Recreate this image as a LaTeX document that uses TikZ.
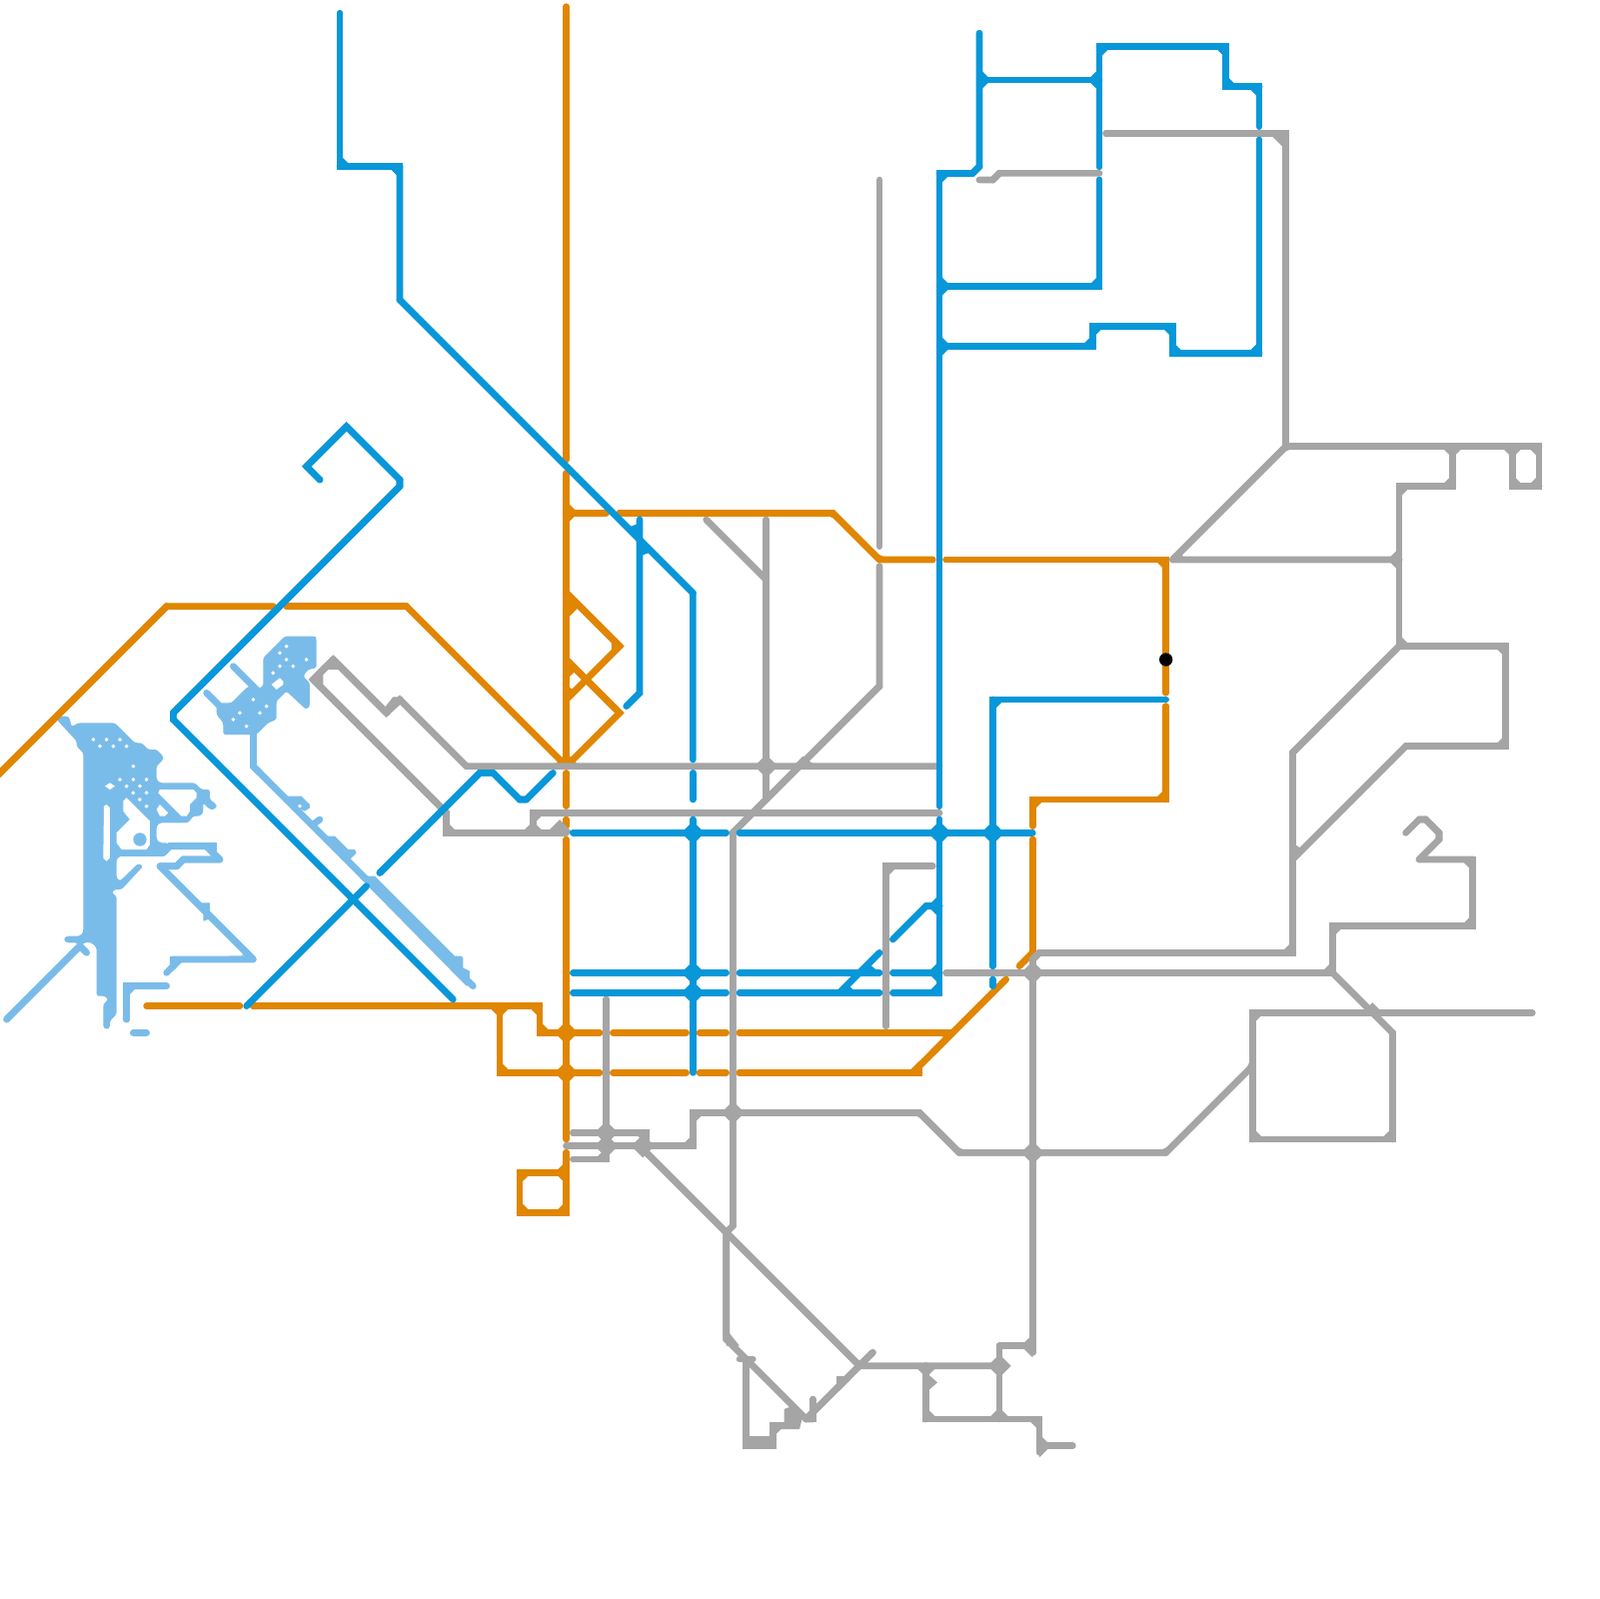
\documentclass[tikz,border=0pt]{standalone}
\usetikzlibrary{calc}
\definecolor{metroO}{HTML}{E08600}
\definecolor{metroB}{HTML}{0897D8}
\definecolor{metroG}{HTML}{A5A5A5}
\definecolor{metroL}{HTML}{7ABCE9}
\tikzset{metro/.style={line width=1mm,line cap=round,line join=miter,miter limit=2}}
\newcommand\chordall{0}
\newcommand\mline[2]{%
  \foreach \x/\y [count=\i, remember=\ax as \aax (initially 0), remember=\ay as \aay (initially 0),
      remember=\x as \ax (initially 0), remember=\y as \ay (initially 0)] in {#2}{%
    \ifnum\i=2 \draw[metro,#1] (\ax,\ay)--(\x,\y); \fi
    \ifnum\i>2
      \draw[metro,#1] (\aax,\aay)--(\ax,\ay)--(\x,\y);
      \pgfmathtruncatemacro\dochord{(\chordall==1 || (abs((\ax-\aax)*0.05*(\x-\ax)*0.05+(\ay-\aay)*0.05*(\y-\ay)*0.05)<0.001 && abs((\ax-\aax)*0.05*(\ay-\aay)*0.05)<0.001)) ? 1 : 0}%
      \ifnum\dochord=1
      \fill[#1] (\ax,\ay)--($(\ax,\ay)!1.75mm!(\aax,\aay)$)--($(\ax,\ay)!1.75mm!(\x,\y)$)--cycle;
      \fi
    \fi
  }}
\newcommand\mlineall[2]{\begingroup\renewcommand\chordall{1}\mline{#1}{#2}\endgroup}
\newcommand\mdia[3]{\fill[#1] (#2,#3) +(-1.75,0) -- +(0,-1.75) -- +(1.75,0) -- +(0,1.75) -- cycle;}
\newcommand\teeH[4]{\fill[#1] (#2,#3) +(0,-1.75) -- +(#4*1.75,0) -- +(0,1.75) -- cycle;}
\newcommand\teeV[4]{\fill[#1] (#2,#3) +(-1.75,0) -- +(0,#4*1.75) -- +(1.75,0) -- cycle;}
\newcommand\hdot[2]{\fill[white] (#1,#2) +(-6,0) -- +(0,-6) -- +(6,0) -- +(0,6) -- cycle;}
\begin{document}
\begin{tikzpicture}[x=1mm,y=-1mm]
\fill[white] (0,0) rectangle (240,240);
\useasboundingbox (0,0) rectangle (240,240);
% ---------- light blue
\begin{scope}[shift={(0,93)},x=0.05mm,y=-0.05mm]
\fill[metroL,rounded corners=1pt] (170,300)--(180,290)--(205,290)--(210,300)--(215,322)--(235,310)--(345,310)--(405,370)--(425,370)--(445,390)--(470,390)--(490,410)--(490,420)--(470,440)--(470,480)--(480,490)--(585,490)--(605,510)--(630,510)--(630,540)--(650,555)--(650,565)--(640,570)--(630,570)--(610,550)--(610,580)--(600,590)--(580,590)--(565,610)--(480,610)--(470,620)--(470,660)--(480,670)--(505,670)--(480,710)--(360,710)--(350,720)--(350,775)--(360,785)--(365,780)--(415,732)--(430,740)--(365,810)--(345,810)--(335,820)--(350,830)--(350,1185)--(330,1205)--(330,1225)--(320,1230)--(310,1225)--(310,1155)--(325,1140)--(315,1130)--(290,1130)--(290,985)--(275,970)--(258,968)--(240,980)--(230,970)--(200,970)--(190,960)--(200,950)--(240,950)--(250,938)--(250,400)--(230,380)--(230,365)--cycle;
\mline{metroL}{490/700,510/680,640/680,640/700,660/720,550/720,530/740,480/740,760/1020,520/1020,520/1040,500/1060}
\mline{metroL}{360/700,490/700}
\fill[metroL] (605,850)--(630,850)--(630,880)--(640,895)--(610,905)--(610,880)--cycle;
\mline{metroL}{20/1200,240/980,260/1000}
\mline{metroL}{380/1200,380/1100,500/1100}
\mline{metroL}{400/1240,440/1240}
\fill[metroL] (690,1010)--(735,1010)--(735,1000)--(700,1030)--cycle;
% holes
\fill[white] (475,520)--(480,510)--(580,510)--(590,520)--(590,535)--(570,555)--(570,575)--(560,590)--(545,590)--cycle;
\fill[white] (470,570)--(480,555)--(505,580)--(495,590)--(480,590)--cycle;
\fill[white] (380,535)--(450,605)--(450,675)--(440,690)--(365,690)--(350,670)--(350,640)--(390,600)--(370,575)--(370,545)--cycle;
\fill[metroL] (420,660) circle (20);
\fill[white] (312,560)--(320,555)--(330,565)--(330,715)--(320,725)--(310,715)--cycle;
\fill[white] (315,500)--(330,490)--(345,500)--(330,510)--cycle;
\foreach \a/\b in {280/360,320/360,360/360,300/380,340/380,380/380,400/440,360/480,400/480,440/480,380/500,420/500,400/520,440/520,420/540,440/560}{\hdot{\a}{\b}}
% upper blob
\fill[metroL,rounded corners=1pt] (790,115)--(855,50)--(945,50)--(950,55)--(950,145)--(925,150)--(910,170)--(930,190)--(930,260)--(920,270)--(910,262)--(860,215)--(830,245)--(830,300)--(805,310)--(770,345)--(670,345)--(670,310)--(650,285)--(650,250)--(695,250)--(745,200)--(780,205)--(790,200)--cycle;
\mline{metroL}{620/220,660/260}
\mline{metroL}{700/140,780/220}
\fill[white] (815,195)--(840,175)--(850,185)--(850,195)--(830,210)--cycle;
\foreach \a/\b in {860/80,840/100,860/120,920/120,840/140,880/140,820/160,760/240,800/260,720/280,780/280,700/300,740/320}{\hdot{\a}{\b}}
\end{scope}
\mline{metroL}{38/110,38/115,39/116,71/148}
\begin{scope}[shift={(40.5,115.5)},x=0.05mm,y=-0.05mm]
\fill[metroL] (50,80)--(95,80)--(120,105)--(120,115)--(105,125)--(85,115)--cycle;
\hdot{90}{110}
\mline{metroL}{130/165,150/150}
\fill[metroL] (170,200)--(195,200)--(235,240)--(255,240)--(260,250)--(240,270)--(220,270)--cycle;
\fill[metroL] (290,320)--(315,320)--(555,560)--(575,560)--(580,565)--(580,595)--(600,605)--(600,630)--(610,640)--(590,650)--(270,325)--cycle;
\end{scope}
% ---------- orange
\mline{metroO}{-1/117,25/91,41/91}
\mline{metroO}{43/91,61/91,85/115}
\mline{metroO}{85/1,85/69}
\mline{metroO}{85/71,85/115}
\mline{metroO}{85/116,85/121}
\mline{metroO}{85/123,85/124}
\mline{metroO}{85/126,85/171}
\mline{metroO}{85/173,85/182,78/182,78/176,85/176}
\mline{metroO}{85/77,91/77}
\mlineall{metroO}{93/77,125/77,132/84,140/84}
\mline{metroO}{142/84,175/84,175/104}
\mline{metroO}{175/106,175/120,155/120,155/124}
\mline{metroO}{155/126,155/143,153/145}
\mlineall{metroO}{85/89,93/97,85/105}
\mline{metroO}{85/99,93/107,85/115}
\mline{metroO}{22/151,36/151}
\mline{metroO}{38/151,81/151,81/155,90/155}
\mline{metroO}{75/151,75/161,90/161}
\mline{metroO}{92/155,103/155}
\mline{metroO}{92/161,103/161}
\mline{metroO}{105/155,109/155}
\mline{metroO}{105/161,109/161}
\mlineall{metroO}{111/155,143/155,140/158}
\mline{metroO}{111/161,138/161,138/160}
\mline{metroO}{137/161,151/147}
\mdia{metroO}{85}{155}
\mdia{metroO}{85}{161}
\teeH{metroO}{85}{77}{1}
\teeV{metroO}{75}{151}{1}
\teeH{metroO}{85}{176}{-1}
\fill[metroO] (85,89)--(87,91)--(85,93)--cycle;
\fill[metroO] (85,99)--(86.5,100.6)--(85,102)--cycle;
\fill[metroO] (85,105)--(85,103)--(86.4,103.6)--cycle;
\fill[metroO] (85,113)--(87,115)--(83,115)--cycle;
% ---------- grey
\mline{metroG}{132/27,132/82}
\mline{metroG}{132/85,132/103,110/125,110/184,109/185,109/201,121/213}
\mline{metroG}{58/107,50/99,47/102,67/122,67/125,85/125}
\mline{metroG}{48/103,48/101,49/100,51/100}
\mline{metroG}{50/99,58/107,60/105,70/115,141/115}
\fill[metroG] (57.5,106.5)--(59,104.6)--(60.5,104.6)--(60,105.8)--(58,107.5)--cycle;
\mline{metroG}{80/125,80/122,141/122}
\mline{metroG}{106/78,115/87}
\mline{metroG}{115/78,115/120}
\mline{metroG}{133/154,133/130,140/130}
\mline{metroG}{147/27,149/27,150/26,165/26}
\mline{metroG}{166/20,193/20,193/67}
\mline{metroG}{193/67,231/67,231/73,227/73,227/67}
\mlineall{metroG}{210/84,176/84,193/67,210/67}
\mline{metroG}{218/67,218/73,210/73,210/97,226/97,226/112,211/112,194/129}
\mline{metroG}{155/146,155/144,156/143,194/143,194/113,210/97,226/97}
\mline{metroG}{142/146,200/146,200/139,221/139,221/129,213/129,216/126,216/125,214/123,213/123,211/125}
\mline{metroG}{200/146,209/155,209/171,188/171,188/152,230/152}
\mlineall{metroG}{85/172,104/172,104/167,138/167,144/173,175/173,188/160,188/157}
\mline{metroG}{86/170,97/170,97/172}
\mline{metroG}{96/172,129/205,150/205}
\mline{metroG}{91/150,91/174,86/174}
\mline{metroG}{155/146,155/203}
\mline{metroG}{131/203,121/213,122/213,122/210}
\mline{metroG}{112/204,112/217,116/217,116/214,118/214}
\mline{metroG}{112/216,116/216}
\fill[metroG] (117.7,211.5)--(119,211)--(120.5,212.5)--(120,214.5)--(116,214.5)--(116,213.5)--(117.7,213.5)--cycle;
\mline{metroG}{111/204,113/204}
\fill[metroG] (109,199.5)--(111,202)--(109,202)--cycle;
\mline{metroG}{126/208,126/207,127/207}
\mline{metroG}{139/205,139/213,156/213,156/218}
\mline{metroG}{150/202,150/213}
\mline{metroG}{150/202,155/202}
\mline{metroG}{156/217,161/217}
\mdia{metroG}{91}{170}
\mdia{metroG}{91}{172}
\mdia{metroG}{96.5}{172}
\mdia{metroG}{110}{167}
\mdia{metroG}{115}{115}
\fill[metroG] (119,115)--(120.5,113.5)--(122.5,115)--cycle;
\mdia{metroG}{155}{146}
\mdia{metroG}{155}{173}
\mdia{metroG}{150}{205}
\fill[metroG] (204.5,152)--(206,150.5)--(207.5,152)--cycle;
\fill[metroG] (194,126.5)--(195.5,127.5)--(194,129)--cycle;
\teeH{metroG}{210}{84}{-1}
\teeV{metroG}{218}{67}{1}
\teeV{metroG}{227}{67}{1}
\teeV{metroG}{150}{213}{-1}
\teeV{metroG}{139}{205}{1}
\teeH{metroG}{155}{202}{-1}
\teeH{metroG}{156}{217}{1}
\teeV{metroG}{80}{125}{-1}
\fill[metroG] (190.5,20)--(193,20)--(193,22.5)--cycle;
\fill[metroG] (139,206)--(140.7,207.5)--(139,209)--cycle;
\fill[metroG] (82,125)--(84,123)--(86,125)--cycle;
% ---------- blue
\mline{metroB}{51/2,51/25,60/25,60/45,104/89,104/114}
\mline{metroB}{104/116,104/120}
\mline{metroB}{104/123,104/161}
\mline{metroB}{96/78,96/104,94/106}
\mline{metroB}{48/72,46/70,52/64,60/72,60/73,26/107,26/108,68/150}
\mline{metroB}{37/151,55/133}
\mline{metroB}{57/131,72/116,74/116,78/120,79/120,83/116}
\mline{metroB}{147/5,147/25,146/26,141/26,141/121}
\mline{metroB}{141/123,141/149,134/149}
\mline{metroB}{134/146,141/146}
\mline{metroB}{141/136,139/136,134/141}
\mline{metroB}{132/143,126/149}
\mline{metroB}{86/146,109/146}
\mline{metroB}{111/146,132/146}
\mline{metroB}{86/149,109/149}
\mline{metroB}{111/149,132/149}
\mline{metroB}{86/125,109/125}
\mline{metroB}{111/125,155/125}
\mline{metroB}{149/145,149/105,175/105}
\mline{metroB}{149/147,149/148}
\mline{metroB}{147/12,165/12}
\mline{metroB}{165/25,165/7,184/7,184/13,189/13,189/19}
\mline{metroB}{165/27,165/43,141/43}
\mline{metroB}{189/21,189/53,176/53,176/49,164/49,164/52,141/52}
\mdia{metroB}{104}{125}
\mdia{metroB}{104}{146}
\mdia{metroB}{104}{149}
\mdia{metroB}{141}{125}
\mdia{metroB}{149}{125}
\fill[metroB] (96,78.5)--(94.2,79.2)--(96,81)--(97.8,82.8)--(96,83.5)--cycle;
\teeH{metroB}{141}{43}{1}
\teeH{metroB}{141}{52}{1}
\teeH{metroB}{147}{12}{1}
\teeH{metroB}{165}{12}{-1}
\teeH{metroB}{141}{136}{-1}
\teeH{metroB}{141}{146}{-1}
\fill[metroB] (130,146)--(132,146)--(130.5,144.7)--cycle;
\fill[metroB] (127,149)--(128.5,149)--(127,147.5)--cycle;
% ---------- dot
\node[circle,fill=black,inner sep=0pt,minimum size=2mm] (dot) at (175,99) {};
\end{tikzpicture}
\end{document}
